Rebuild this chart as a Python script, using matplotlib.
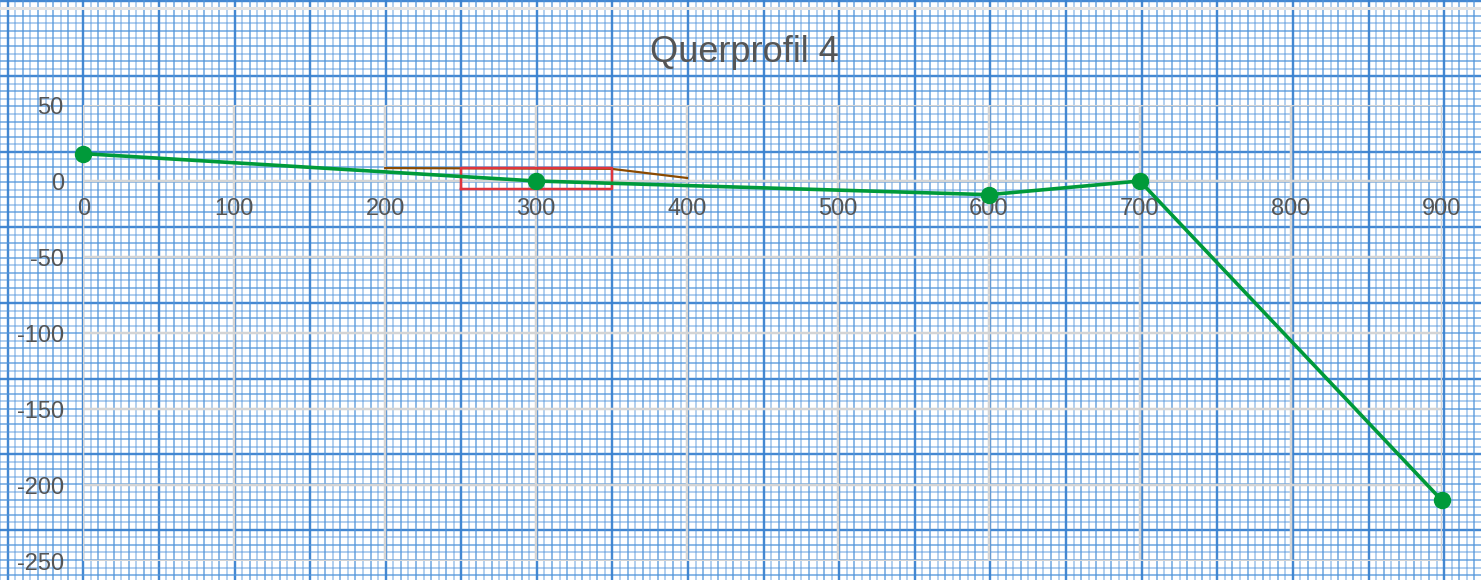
import matplotlib
matplotlib.use("Agg")
import matplotlib.pyplot as plt
import numpy as np

plt.rcParams['font.family'] = ['Liberation Sans', 'DejaVu Sans']

# profile points (green)
profile_x = [0, 300, 600, 700, 900]
profile_y = [18, 0, -9, 0, -210]

# brown line
brown_x = [200, 350, 400]
brown_y = [8.5, 8, 2]

# red box corners (x0, x1, y0, y1)
box_x = [250, 350]
box_y = [-5, 8.5]

x_ticks = [0, 100, 200, 300, 400, 500, 600, 700, 800, 900]
y_ticks = [50, 0, -50, -100, -150, -200, -250]

W, H = 1481, 580
fig = plt.figure(figsize=(W / 100, H / 100), dpi=100)

# graph paper background, pixel coordinates
bg = fig.add_axes([0, 0, 1, 1], zorder=0)
bg.set_xlim(0, W)
bg.set_ylim(H, 0)
bg.axis('off')
step = 7.56
px = 72 / 100  # points per pixel
for i in np.arange(-40, 220):
    major = (i % 10 == 0)
    col = '#3a82d0' if major else '#4f93da'
    a = 0.95 if major else (0.75 if i % 2 == 0 else 0.5)
    lw = (2.4 if major else 1.7) * px
    x = 83.3 + i * step
    if 0 <= x <= W:
        bg.axvline(x, color=col, alpha=a, lw=lw)
    y = 303 + i * step
    if 0 <= y <= H:
        bg.axhline(y, color=col, alpha=a, lw=lw)
bg.axhline(8, color='#e2e2e2', lw=3 * px)

# chart axes
x0, x1 = 83.3, 1441.7
ytop, ybot = 105, 561
ax = fig.add_axes([x0 / W, (H - ybot) / H, (x1 - x0) / W, (ybot - ytop) / H], zorder=1)
ax.patch.set_alpha(0)
ax.set_xlim(0, 900)
ax.set_ylim(-250, 50)
for s in ax.spines.values():
    s.set_visible(False)
ax.set_xticks(x_ticks)
ax.set_yticks(y_ticks)
ax.set_xticklabels([])
ax.set_yticklabels([str(v) for v in y_ticks], color='#555555', fontsize=17)
ax.tick_params(length=0, pad=14)
ax.grid(True, color='#d4d4d4', lw=2.5 * px)
ax.set_axisbelow(True)

# x labels sit just under the zero line
for v in x_ticks:
    ax.text(v, -11, str(v), ha='center', va='top', color='#555555', fontsize=17)

ax.plot(brown_x, brown_y, color='#8b4a00', lw=2.2 * px, zorder=3)
ax.plot([box_x[0], box_x[1], box_x[1], box_x[0], box_x[0]],
        [box_y[0], box_y[0], box_y[1], box_y[1], box_y[0]],
        color='#e0353c', lw=2.5 * px, zorder=4)
ax.plot(profile_x, profile_y, color='#009a3a', lw=3.6 * px,
        marker='o', markersize=16 * px, zorder=5, clip_on=False)

fig.text(744 / W, 1 - 52 / H, 'Querprofil 4', ha='center', va='center',
         color='#555555', fontsize=26)

fig.savefig('out.png', dpi=100)
